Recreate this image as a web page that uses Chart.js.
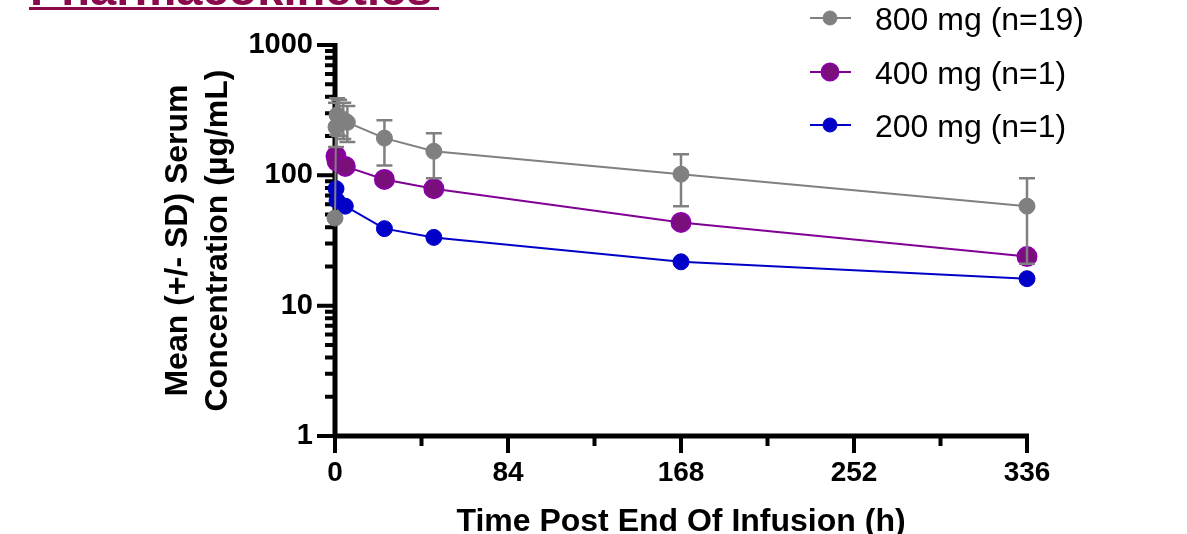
<!DOCTYPE html>
<html lang="en">
<head>
<meta charset="UTF-8">
<title>Pharmacokinetics</title>
<script src="https://cdn.jsdelivr.net/npm/chart.js"></script>
<style>
  html, body { margin: 0; padding: 0; background: #fff; }
</style>
</head>
<body>
<canvas id="pkChart" width="1187" height="534"></canvas>
<script>
// data (h, ug/mL)
const seriesLabels = ['800 mg (n=19)', '400 mg (n=1)', '200 mg (n=1)'];
const hours800 = [0, 0.5, 1, 2, 4, 6, 24, 48, 168, 336];
const conc800 = [47, 235, 290, 280, 268, 255, 193, 153, 102, 58];
const sdHigh800 = [null, 360, 390, 380, 360, 340, 265, 210, 145, 95];
const sdLow800 = [null, 165, 205, 200, 190, 180, 119, 95, 58, 21];
const hours400 = [0.5, 1, 5, 24, 48, 168, 336];
const conc400 = [140, 128, 117, 93, 79, 43.5, 23.8];
const hours200 = [0.5, 1, 5, 24, 48, 168, 336];
const conc200 = [79, 64, 58, 39, 33.4, 21.7, 16.1];
const xTicks = [0, 84, 168, 252, 336];
const xMinorTicks = [42, 126, 210, 294];
const yTicks = [1, 10, 100, 1000];

const FONT = "'Liberation Sans', Arial, sans-serif";

function points(xs, ys) {
    return xs.map((h, i) => ({ x: h, y: ys[i] }));
}

// axis lines and tick marks, drawn under the markers
const axesPlugin = {
    id: 'axes',
    beforeDatasetsDraw(chart) {
        const { ctx, chartArea: { left, right, top, bottom }, scales: { x, y } } = chart;
        ctx.save();
        ctx.strokeStyle = '#000';
        ctx.lineWidth = 5;
        ctx.beginPath();
        ctx.moveTo(left, top - 2);
        ctx.lineTo(left, bottom + 2);
        ctx.moveTo(left - 2, bottom);
        ctx.lineTo(right + 2, bottom);
        ctx.stroke();

        ctx.lineWidth = 4;
        ctx.beginPath();
        yTicks.forEach((v, k) => {
            const py = y.getPixelForValue(v);
            ctx.moveTo(left - 18, py);
            ctx.lineTo(left, py);
            if (k < yTicks.length - 1) {
                for (let m = 2; m <= 9; m++) {
                    const pm = y.getPixelForValue(v * m);
                    ctx.moveTo(left - 10, pm);
                    ctx.lineTo(left, pm);
                }
            }
        });
        xTicks.forEach(v => {
            const px = x.getPixelForValue(v);
            ctx.moveTo(px, bottom);
            ctx.lineTo(px, bottom + 17);
        });
        xMinorTicks.forEach(v => {
            const px = x.getPixelForValue(v);
            ctx.moveTo(px, bottom);
            ctx.lineTo(px, bottom + 10);
        });
        ctx.stroke();
        ctx.restore();
    }
};

// SD bars for the 800 mg group
const errorBarPlugin = {
    id: 'errorBars',
    afterDatasetsDraw(chart) {
        const { ctx, scales: { x, y } } = chart;
        ctx.save();
        ctx.strokeStyle = '#808080';
        ctx.lineWidth = 2.5;
        ctx.beginPath();
        hours800.forEach((h, i) => {
            if (sdHigh800[i] == null) return;
            const px = x.getPixelForValue(h);
            const yHi = y.getPixelForValue(sdHigh800[i]);
            const yLo = y.getPixelForValue(sdLow800[i]);
            ctx.moveTo(px, yHi);
            ctx.lineTo(px, yLo);
            ctx.moveTo(px - 8, yHi);
            ctx.lineTo(px + 8, yHi);
            ctx.moveTo(px - 8, yLo);
            ctx.lineTo(px + 8, yLo);
        });
        ctx.stroke();
        ctx.restore();
    }
};

// page title and legend in the top corners
const decorPlugin = {
    id: 'decor',
    afterDraw(chart) {
        const ctx = chart.ctx;
        ctx.save();
        ctx.fillStyle = '#8b0a4b';
        ctx.font = 'bold 47px ' + FONT;
        ctx.textBaseline = 'alphabetic';
        ctx.fillText('Pharmacokinetics', 30, 5);
        ctx.fillRect(29, 7, 410, 3);

        const rowY = [18, 72, 125];
        chart.data.datasets.forEach((ds, i) => {
            const yy = rowY[i];
            ctx.strokeStyle = ds.borderColor;
            ctx.lineWidth = 2;
            ctx.beginPath();
            ctx.moveTo(810, yy);
            ctx.lineTo(851, yy);
            ctx.stroke();
            ctx.beginPath();
            ctx.arc(830, yy, ds.pointRadius - 1, 0, Math.PI * 2);
            ctx.fillStyle = ds.pointBackgroundColor;
            ctx.fill();
            ctx.lineWidth = ds.pointBorderWidth;
            ctx.strokeStyle = ds.pointBorderColor;
            ctx.stroke();
            ctx.fillStyle = '#000';
            ctx.font = '32px ' + FONT;
            ctx.fillText(ds.label, 875, yy + 12);
        });
        ctx.restore();
    }
};

const ctx = document.getElementById('pkChart').getContext('2d');
const chart = new Chart(ctx, {
    type: 'line',
    data: {
        datasets: [{
            label: seriesLabels[0],
            data: points(hours800, conc800),
            borderColor: '#808080',
            borderWidth: 2,
            pointRadius: 8,
            pointBackgroundColor: '#808080',
            pointBorderColor: '#808080',
            pointBorderWidth: 1,
            tension: 0,
            clip: false
        }, {
            label: seriesLabels[1],
            data: points(hours400, conc400),
            borderColor: '#800094',
            borderWidth: 2,
            pointRadius: 9.5,
            pointBackgroundColor: '#7a0f7c',
            pointBorderColor: '#8a00a8',
            pointBorderWidth: 2,
            tension: 0,
            clip: false
        }, {
            label: seriesLabels[2],
            data: points(hours200, conc200),
            borderColor: '#0000c8',
            borderWidth: 2,
            pointRadius: 8,
            pointBackgroundColor: '#0000c8',
            pointBorderColor: '#0000c8',
            pointBorderWidth: 1,
            tension: 0,
            clip: false
        }]
    },
    options: {
        responsive: false,
        animation: false,
        layout: { padding: { left: 0, top: 45, right: 160, bottom: 0 } },
        plugins: {
            legend: { display: false },
            tooltip: { enabled: false }
        },
        scales: {
            x: {
                type: 'linear',
                min: 0,
                max: 336,
                afterBuildTicks: s => { s.ticks = xTicks.map(v => ({ value: v })); },
                afterFit: s => { s.height = 98; },
                grid: { display: false, drawTicks: false },
                border: { display: false },
                ticks: {
                    color: '#000',
                    padding: 20,
                    maxRotation: 0,
                    autoSkip: false,
                    font: { family: FONT, size: 28, weight: 'bold' }
                },
                title: {
                    display: true,
                    text: 'Time Post End Of Infusion (h)',
                    color: '#000',
                    padding: 0,
                    font: { family: FONT, size: 32, weight: 'bold', lineHeight: 0.75 }
                }
            },
            y: {
                type: 'logarithmic',
                min: 1,
                max: 1000,
                afterBuildTicks: s => { s.ticks = yTicks.map(v => ({ value: v })); },
                afterFit: s => { s.width = 335; },
                grid: { display: false, drawTicks: false },
                border: { display: false },
                ticks: {
                    color: '#000',
                    padding: 22,
                    callback: v => String(v),
                    font: { family: FONT, size: 29, weight: 'bold' }
                },
                title: {
                    display: true,
                    text: ['Mean (+/- SD) Serum', 'Concentration (µg/mL)'],
                    color: '#000',
                    padding: { top: 158, bottom: 0 },
                    font: { family: FONT, size: 32, weight: 'bold', lineHeight: 1.25 }
                }
            }
        }
    },
    plugins: [axesPlugin, errorBarPlugin, decorPlugin]
});
</script>
</body>
</html>
